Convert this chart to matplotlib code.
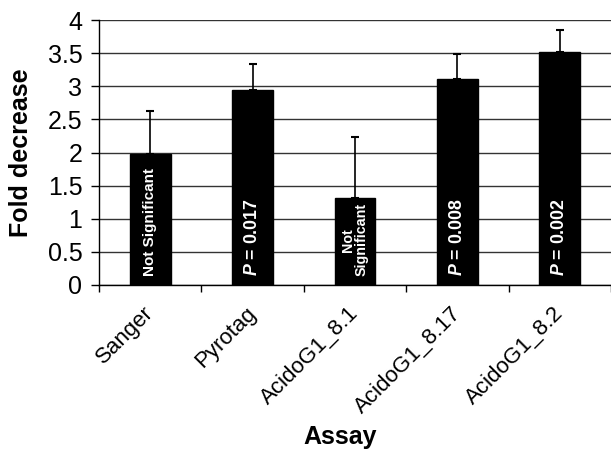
import matplotlib
matplotlib.use("Agg")
import matplotlib.pyplot as plt
import numpy as np

plt.rcParams['font.family'] = ['Liberation Sans', 'DejaVu Sans']
plt.rcParams['mathtext.fontset'] = 'custom'
plt.rcParams['mathtext.it'] = 'Liberation Sans:italic:bold'
plt.rcParams['mathtext.rm'] = 'Liberation Sans:bold'

categories = ["Sanger", "Pyrotag", "AcidoG1_8.1", "AcidoG1_8.17", "AcidoG1_8.2"]
values = [1.97, 2.94, 1.32, 3.11, 3.52]
errors = [0.66, 0.40, 0.92, 0.38, 0.33]
bar_labels = ["Not Significant", "$P$ = 0.017", "Not\nSignificant", "$P$ = 0.008", "$P$ = 0.002"]
label_sizes = [11, 12.8, 10.3, 12.8, 12.8]
yticks = [0, 0.5, 1, 1.5, 2, 2.5, 3, 3.5, 4]
ytick_labels = ["0", "0.5", "1", "1.5", "2", "2.5", "3", "3.5", "4"]

fig = plt.figure(figsize=(6.11, 4.5), dpi=100)
ax = fig.add_axes([99/611, 1-285/450, 512/611, 265/450])

x = np.arange(len(categories))
ax.set_axisbelow(True)
ax.yaxis.grid(True, color='#333333', linewidth=1)
ax.bar(x, values, width=0.4, color='black', edgecolor='black', zorder=2)
ax.errorbar(x, values, yerr=[np.zeros(len(errors)), errors], fmt='none',
            ecolor='black', elinewidth=1.2, capsize=3, capthick=1.5, zorder=3)

for xi, lab, fs in zip(x, bar_labels, label_sizes):
    ax.text(xi, 0.13, lab, rotation=90, color='white', fontweight='bold',
            fontsize=fs, ha='center', va='bottom', zorder=4,
            linespacing=0.95, multialignment='center')

ax.set_xlim(-0.5, len(categories) - 0.5)
ax.set_ylim(0, 4)
ax.set_yticks(yticks)
ax.set_yticklabels(ytick_labels, fontsize=18)
ax.set_xticks(np.arange(len(categories) + 1) - 0.5)
ax.set_xticklabels([])
ax.set_xticks(x, minor=True)
ax.set_xticklabels(categories, minor=True, rotation=45, ha='right', va='center',
                   rotation_mode='anchor', fontsize=16)
ax.tick_params(axis='x', which='minor', length=0, pad=18)
ax.tick_params(axis='x', which='major', length=5, direction='out', width=1)
ax.tick_params(axis='y', length=6, direction='out', width=1, pad=6)

for s in ['top', 'right']:
    ax.spines[s].set_visible(False)
ax.spines['left'].set_linewidth(1)
ax.spines['bottom'].set_linewidth(1)

ax.set_ylabel("Fold decrease", fontsize=18, fontweight='bold')
ax.yaxis.set_label_coords(-(99 - 33) / 512, 0.5)
fig.text(340/611, 1-437/450, "Assay", fontsize=18, fontweight='bold',
         ha='center', va='center')

fig.savefig("out.png", dpi=100)
